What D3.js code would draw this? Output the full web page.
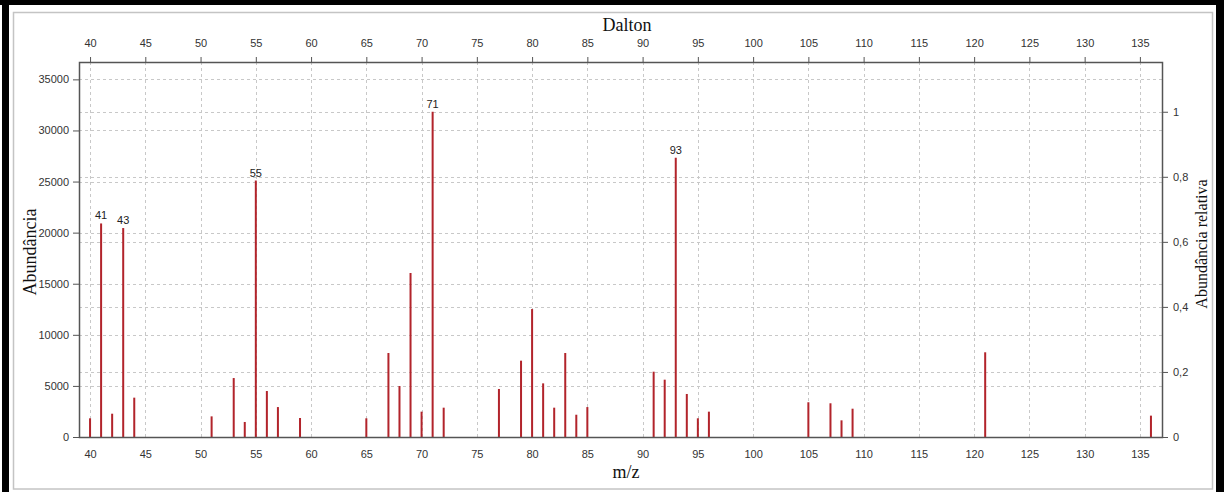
<!DOCTYPE html>
<html>
<head>
<meta charset="utf-8">
<script src="https://cdn.jsdelivr.net/npm/d3@7"></script>
<style>
  html, body { margin: 0; padding: 0; background: #fff; }
  svg { display: block; }
  .tick text { font-family: "Liberation Sans", Arial, sans-serif; font-size: 11px; fill: #333; }
  .title { font-family: "Liberation Serif", "Times New Roman", serif; fill: #111; }
</style>
</head>
<body>
<svg id="chart" width="1224" height="492"></svg>
<script>
// Mass spectrum: m/z of each peak and its absolute abundance
const mz = [40, 41, 42, 43, 44, 51, 53, 54, 55, 56, 57, 59, 65, 67, 68, 69, 70, 71, 72,
            77, 79, 80, 81, 82, 83, 84, 85, 91, 92, 93, 94, 95, 96, 105, 107, 108, 109, 121, 136];
const abundance = [1830, 20900, 2280, 20450, 3850, 2020, 5770, 1470, 25100, 4500, 2930, 1860, 1830, 8220, 4990, 16050, 2480, 31830, 2870,
                   4700, 7470, 12520, 5250, 2870, 8220, 2180, 2930, 6390, 5610, 27330, 4210, 1830, 2480, 3400, 3300, 1630, 2770, 8290, 2090];
// Peaks annotated with their m/z
const labelledPeaks = [41, 43, 55, 71, 93];

const xTicks = [40, 45, 50, 55, 60, 65, 70, 75, 80, 85, 90, 95, 100, 105, 110, 115, 120, 125, 130, 135];
const leftTicks = [0, 5000, 10000, 15000, 20000, 25000, 30000, 35000];
const rightTicks = [0, 0.2, 0.4, 0.6, 0.8, 1];
const rightTickLabels = ["0", "0,2", "0,4", "0,6", "0,8", "1"];

const svg = d3.select("#chart");
const W = 1224, H = 492;
const plot = { left: 79, right: 1162, top: 62, bottom: 437 };
const yMax = 36700;
const maxAbund = d3.max(abundance);

const x = d3.scaleLinear().domain([39, 137]).range([plot.left, plot.right]);
const yL = d3.scaleLinear().domain([0, yMax]).range([plot.bottom, plot.top]);
const yR = d3.scaleLinear().domain([0, yMax / maxAbund]).range([plot.bottom, plot.top]);

// Outer frame
svg.append("rect").attr("x", 0).attr("y", 0).attr("width", W).attr("height", H).attr("fill", "#fff");
svg.append("rect").attr("x", 0).attr("y", 0).attr("width", W).attr("height", 5).attr("fill", "#000");
svg.append("rect").attr("x", 2).attr("y", 0).attr("width", 7).attr("height", H).attr("fill", "#000");
svg.append("rect").attr("x", 1216).attr("y", 0).attr("width", 8).attr("height", H).attr("fill", "#000");
svg.append("rect").attr("x", 13.5).attr("y", 12.5).attr("width", 1199).attr("height", 476.5)
  .attr("fill", "none").attr("stroke", "#c4c4c4").attr("stroke-width", 1.5);

// Grid
const grid = svg.append("g").attr("stroke", "#c8c8c8").attr("stroke-dasharray", "3,3").attr("stroke-width", 1);
grid.selectAll(".vg").data(xTicks).join("line")
  .attr("x1", d => Math.round(x(d)) + 0.5).attr("x2", d => Math.round(x(d)) + 0.5)
  .attr("y1", plot.top).attr("y2", plot.bottom);
grid.selectAll(".hl").data(leftTicks.filter(d => d > 0)).join("line")
  .attr("x1", plot.left).attr("x2", plot.right)
  .attr("y1", d => Math.round(yL(d)) + 0.5).attr("y2", d => Math.round(yL(d)) + 0.5);
grid.selectAll(".hr").data(rightTicks.filter(d => d > 0)).join("line")
  .attr("x1", plot.left).attr("x2", plot.right)
  .attr("y1", d => Math.round(yR(d)) + 0.5).attr("y2", d => Math.round(yR(d)) + 0.5);

// Peaks
svg.append("g").selectAll("rect").data(mz).join("rect")
  .attr("x", d => x(d) - 1)
  .attr("width", 2)
  .attr("y", (d, i) => yL(abundance[i]))
  .attr("height", (d, i) => plot.bottom - yL(abundance[i]))
  .attr("fill", "#b2242b");

svg.append("g").selectAll("text").data(labelledPeaks).join("text")
  .attr("x", d => x(d))
  .attr("y", d => yL(abundance[mz.indexOf(d)]) - 4)
  .attr("text-anchor", "middle")
  .style("font-family", "Liberation Sans, Arial, sans-serif")
  .style("font-size", "11px")
  .attr("fill", "#222")
  .text(d => d);

// Axes
const axisTop = d3.axisTop(x).tickValues(xTicks).tickSize(5).tickPadding(10);
const axisBottom = d3.axisBottom(x).tickValues(xTicks).tickSize(0).tickPadding(13);
const axisLeft = d3.axisLeft(yL).tickValues(leftTicks).tickSize(6).tickPadding(4).tickFormat(d3.format("d"));
const axisRight = d3.axisRight(yR).tickValues(rightTicks).tickSize(6).tickPadding(5)
  .tickFormat((d, i) => rightTickLabels[i]);

function styleAxis(g) {
  g.select(".domain").remove();
  g.selectAll(".tick line").attr("stroke", "#555");
}
svg.append("g").attr("transform", `translate(0,${plot.top})`).call(axisTop).call(styleAxis);
svg.append("g").attr("transform", `translate(0,${plot.bottom})`).call(axisBottom).call(styleAxis);
svg.append("g").attr("transform", `translate(${plot.left},0)`).call(axisLeft).call(styleAxis);
svg.append("g").attr("transform", `translate(${plot.right},0)`).call(axisRight).call(styleAxis);

// Plot border
svg.append("rect")
  .attr("x", plot.left + 0.5).attr("y", plot.top + 0.5)
  .attr("width", plot.right - plot.left).attr("height", plot.bottom - plot.top)
  .attr("fill", "none").attr("stroke", "#555").attr("stroke-width", 1.5);

// Axis titles
svg.append("text").attr("class", "title").attr("x", 627).attr("y", 31)
  .attr("text-anchor", "middle").style("font-size", "18px").text("Dalton");
svg.append("text").attr("class", "title").attr("x", 626).attr("y", 478)
  .attr("text-anchor", "middle").style("font-size", "18px").text("m/z");
svg.append("text").attr("class", "title")
  .attr("transform", "translate(36,252) rotate(-90)")
  .attr("text-anchor", "middle").style("font-size", "18px").text("Abundância");
svg.append("text").attr("class", "title")
  .attr("transform", "translate(1207,244) rotate(-90)")
  .attr("text-anchor", "middle").style("font-size", "16px").text("Abundância relativa");
</script>
</body>
</html>
